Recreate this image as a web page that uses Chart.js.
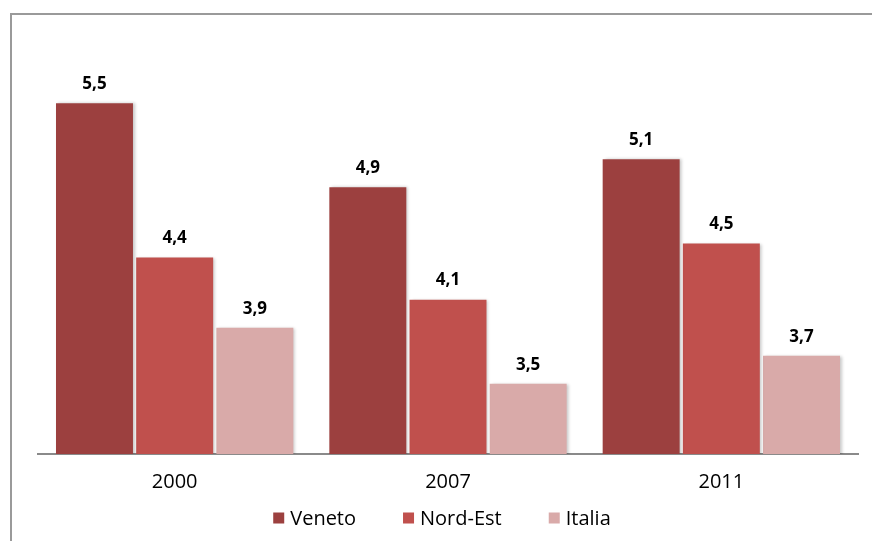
<!DOCTYPE html>
<html>
<head>
<meta charset="utf-8">
<script src="https://cdn.jsdelivr.net/npm/chart.js@4.4.1/dist/chart.umd.min.js"></script>
<style>
  html, body { margin: 0; padding: 0; background: #fff; overflow: hidden; }
  #wrap { position: relative; width: 872px; height: 541px; }
  #frame { position: absolute; left: 10px; top: 13px; width: 900px; height: 600px;
           border-left: 2px solid #9a9a9a; border-top: 2px solid #9a9a9a; box-sizing: border-box; }
  canvas { position: absolute; left: 0; top: 0; }
</style>
</head>
<body>
<div id="wrap">
  <div id="frame"></div>
  <canvas id="c" width="872" height="541"></canvas>
</div>
<script>
const categories = ['2000', '2007', '2011'];
const veneto = [5.5, 4.9, 5.1];
const nordEst = [4.4, 4.1, 4.5];
const italia = [3.9, 3.5, 3.7];
const seriesNames = ['Veneto', 'Nord-Est', 'Italia'];
const seriesColors = ['#9c403f', '#c0504d', '#d9aaa9'];
const FONT = "'Open Sans', 'DejaVu Sans', sans-serif";

const shadowPlugin = {
  id: 'shadow',
  beforeDatasetsDraw(chart) {
    const ctx = chart.ctx;
    ctx.save();
    ctx.shadowColor = 'rgba(0,0,0,0.22)';
    ctx.shadowBlur = 3;
    ctx.shadowOffsetX = 2;
    ctx.shadowOffsetY = 0;
  },
  afterDatasetsDraw(chart) {
    chart.ctx.restore();
    const ctx = chart.ctx;
    ctx.save();
    ctx.font = "bold 17px " + FONT;
    ctx.fillStyle = '#000';
    ctx.textAlign = 'center';
    ctx.textBaseline = 'middle';
    chart.data.datasets.forEach((ds, i) => {
      const meta = chart.getDatasetMeta(i);
      meta.data.forEach((bar, j) => {
        const txt = ds.data[j].toFixed(1).replace('.', ',');
        ctx.fillText(txt, bar.x, bar.y - 19);
      });
    });
    ctx.restore();
  },
  afterDraw(chart) {
    // legend
    const ctx = chart.ctx;
    ctx.save();
    ctx.font = "20px " + FONT;
    ctx.textBaseline = 'middle';
    ctx.textAlign = 'left';
    const box = 11, gapText = 6, gapItem = 47, cy = 518;
    const widths = chart.data.datasets.map(ds => box + gapText + ctx.measureText(ds.label).width);
    const total = widths.reduce((a, b) => a + b, 0) + gapItem * (widths.length - 1);
    let x = 442 - total / 2;
    chart.data.datasets.forEach((ds, i) => {
      ctx.fillStyle = ds.backgroundColor;
      ctx.fillRect(x, cy - box / 2, box, box);
      ctx.fillStyle = '#000';
      ctx.fillText(ds.label, x + box + gapText, cy + 1);
      x += widths[i] + gapItem;
    });
    ctx.restore();
  }
};

new Chart(document.getElementById('c'), {
  type: 'bar',
  data: {
    labels: categories,
    datasets: [
      { label: seriesNames[0], data: veneto, backgroundColor: seriesColors[0] },
      { label: seriesNames[1], data: nordEst, backgroundColor: seriesColors[1] },
      { label: seriesNames[2], data: italia, backgroundColor: seriesColors[2] }
    ]
  },
  options: {
    responsive: false,
    animation: false,
    devicePixelRatio: 1,
    categoryPercentage: 0.88,
    barPercentage: 0.96,
    layout: { padding: { left: 38, right: 14, top: 33, bottom: 39 } },
    plugins: {
      tooltip: { enabled: false },
      legend: { display: false }
    },
    scales: {
      x: {
        grid: { display: false },
        border: { display: true, color: '#8a8a8a', width: 2 },
        ticks: { font: { family: FONT, size: 20 }, color: '#000', padding: 8 }
      },
      y: {
        display: false,
        min: 3,
        max: 6
      }
    }
  },
  plugins: [shadowPlugin]
});
</script>
</body>
</html>
